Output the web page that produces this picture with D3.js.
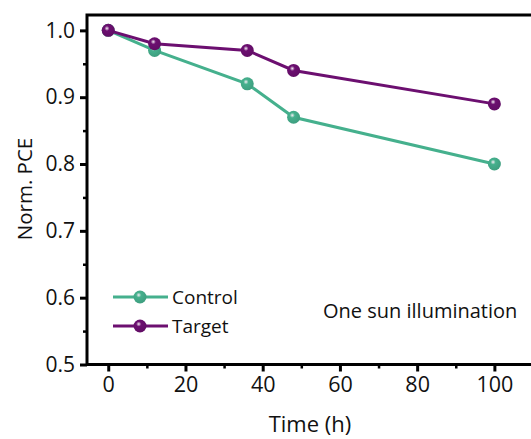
<!DOCTYPE html>
<html><head><meta charset="utf-8">
<script src="https://cdn.jsdelivr.net/npm/d3@7"></script>
<style>body{margin:0;background:#fff;overflow:hidden}</style>
</head><body>
<script>
const times = [0, 12, 36, 48, 100];
const control = [1.0, 0.97, 0.92, 0.87, 0.80];
const target = [1.0, 0.98, 0.97, 0.94, 0.89];
const xTicks = [0, 20, 40, 60, 80, 100];
const yTicks = [0.5, 0.6, 0.7, 0.8, 0.9, 1.0];
const seriesNames = ["Control", "Target"];
const colors = ["#45b08d", "#6c0f70"];

const W = 531, H = 439;
const svg = d3.select("body").append("svg").attr("width", W).attr("height", H);
const font = "'Open Sans', sans-serif";

const x = d3.scaleLinear().domain([-5.5, 110]).range([87, 533]);
const y = d3.scaleLinear().domain([0.5, 1.023]).range([364.5, 15]);

const defs = svg.append("defs");
colors.forEach((c, i) => {
  const g = defs.append("radialGradient").attr("id", "g" + i)
    .attr("cx", "40%").attr("cy", "35%").attr("r", "65%");
  g.append("stop").attr("offset", "0%").attr("stop-color", "#f4eef4");
  g.append("stop").attr("offset", "30%").attr("stop-color", c);
  g.append("stop").attr("offset", "100%").attr("stop-color", d3.color(c).darker(0.3));
});

// frame
svg.append("rect").attr("x", x.range()[0]).attr("y", y.range()[1])
  .attr("width", x.range()[1] - x.range()[0]).attr("height", y.range()[0] - y.range()[1])
  .attr("fill", "none").attr("stroke", "#000").attr("stroke-width", 3);

// axes
const xAxis = d3.axisBottom(x).tickValues(xTicks).tickSize(7).tickSizeOuter(0).tickPadding(5);
const gx = svg.append("g").attr("transform", `translate(0,${y.range()[0]})`).call(xAxis);
gx.select(".domain").remove();
gx.selectAll(".tick line").attr("stroke-width", 3);
gx.selectAll("text").attr("font-family", font).attr("font-size", 21.5).attr("fill", "#111");
const xMinor = d3.axisBottom(x).tickValues([10, 30, 50, 70, 90]).tickSize(4).tickFormat("");
const gxm = svg.append("g").attr("transform", `translate(0,${y.range()[0]})`).call(xMinor);
gxm.select(".domain").remove();
gxm.selectAll(".tick line").attr("stroke-width", 2.5);

const yAxis = d3.axisLeft(y).tickValues(yTicks).tickSize(7).tickSizeOuter(0).tickPadding(5).tickFormat(d3.format(".1f"));
const gy = svg.append("g").attr("transform", `translate(${x.range()[0]},0)`).call(yAxis);
gy.select(".domain").remove();
gy.selectAll(".tick line").attr("stroke-width", 3);
gy.selectAll("text").attr("font-family", font).attr("font-size", 21).attr("fill", "#111");
const yMinor = d3.axisLeft(y).tickValues([0.55, 0.65, 0.75, 0.85, 0.95]).tickSize(4).tickFormat("");
const gym = svg.append("g").attr("transform", `translate(${x.range()[0]},0)`).call(yMinor);
gym.select(".domain").remove();
gym.selectAll(".tick line").attr("stroke-width", 2.5);

// labels
svg.append("text").attr("x", 310).attr("y", 432).attr("text-anchor", "middle")
  .attr("font-family", font).attr("font-size", 22).attr("fill", "#111").text("Time (h)");
svg.append("text").attr("transform", "translate(32,189) rotate(-90)").attr("text-anchor", "middle")
  .attr("font-family", font).attr("font-size", 20.5).attr("fill", "#111").text("Norm. PCE");

// series
const data = [control, target];
const line = d3.line().x((d, i) => x(times[i])).y(d => y(d));
data.forEach((vals, s) => {
  svg.append("path").datum(vals).attr("d", line).attr("fill", "none")
    .attr("stroke", colors[s]).attr("stroke-width", 3);
  svg.selectAll(null).data(vals).enter().append("circle")
    .attr("cx", (d, i) => x(times[i])).attr("cy", d => y(d)).attr("r", 6.5)
    .attr("fill", `url(#g${s})`);
});

// legend
seriesNames.forEach((n, s) => {
  const ly = 297 + s * 29;
  svg.append("line").attr("x1", 113).attr("x2", 168).attr("y1", ly).attr("y2", ly)
    .attr("stroke", colors[s]).attr("stroke-width", 3);
  svg.append("circle").attr("cx", 140).attr("cy", ly).attr("r", 6.5).attr("fill", `url(#g${s})`);
  svg.append("text").attr("x", 172).attr("y", ly + 6.5).attr("font-family", font)
    .attr("font-size", 19).attr("fill", "#111").text(n);
});
svg.append("text").attr("x", 323).attr("y", 318).attr("font-family", font)
  .attr("font-size", 20).attr("fill", "#111").text("One sun illumination");
</script>
</body></html>
